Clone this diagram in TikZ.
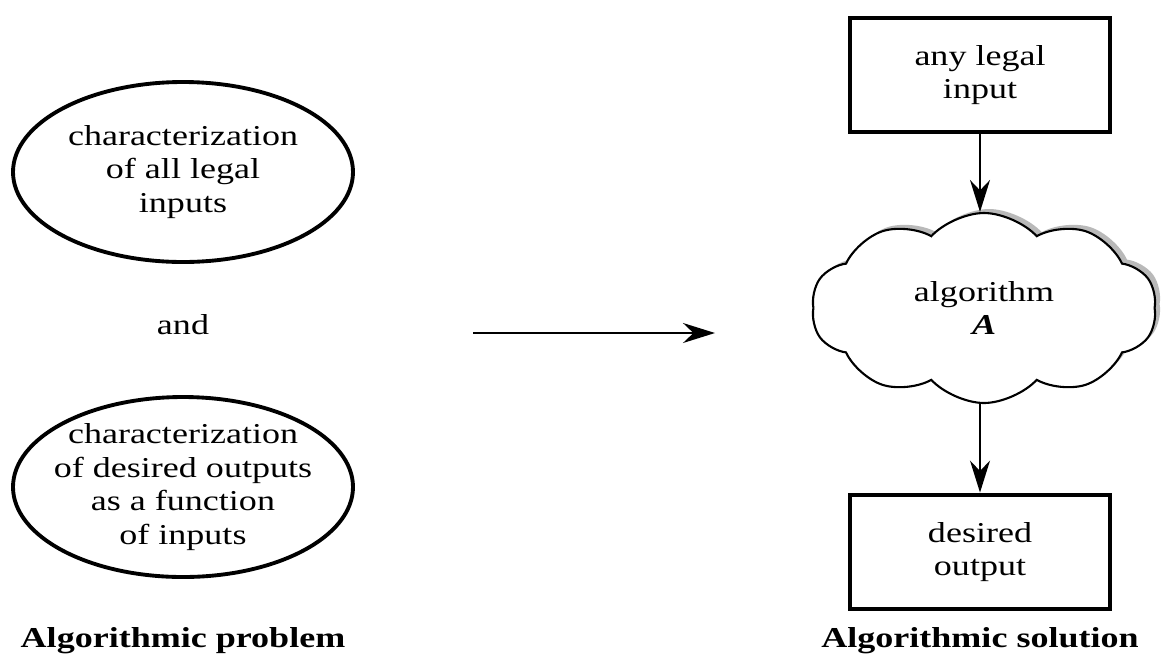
\documentclass[tikz,border=0pt]{standalone}
\usepackage{fontspec}
\setmainfont{Liberation Serif}[FakeStretch=1.25]
\usetikzlibrary{arrows.meta,positioning,shapes.geometric,shapes.symbols,shadows}
\tikzset{
  ovalblock/.style={ellipse, draw, line width=1.1pt, align=center, minimum width=3.4cm, minimum height=1.8cm, inner xsep=-0.15cm, inner ysep=-0.06cm},
  block/.style={rectangle, draw, line width=1.4pt, align=center, minimum width=2.6cm, minimum height=1.14cm},
  cloudblock/.style={cloud, draw, line width=0.6pt, fill=white, align=center, cloud puffs=10, cloud puff arc=95, aspect=1.8, minimum width=3.45cm, minimum height=1.9cm,
    drop shadow={shadow xshift=0.05cm, shadow yshift=0.04cm, fill=gray!55, opacity=1}},
  line/.style={-{Stealth[length=0.32cm,width=0.2cm]}, line width=0.5pt},
  title/.style={font=\fontsize{8.2}{9.5}\selectfont\bfseries, anchor=base}
}
\begin{document}
\begin{tikzpicture}[font=\fontsize{8.2}{9.5}\selectfont]
  \useasboundingbox (0,0) rectangle (11.72,6.54);
  \node[ovalblock] (inputs) at (1.83,4.82) {characterization\\of all legal\\inputs};
  \node (and) at (1.83,3.29) {and};
  \node[ovalblock] (outputs) at (1.83,1.67) {characterization\\of desired outputs\\as a function\\of inputs};
  \node[title] (problem) at (1.83,0.07) {Algorithmic problem};
  \coordinate (from) at (4.73,3.21);
  \coordinate (to) at (7.15,3.21);
  \draw[line] (from) -- (to);
  \node[block] (in) at (9.80,5.79) {any legal\\input};
  \node[cloudblock] (alg) at (9.84,3.46) {algorithm\\\textbf{\textit{A}}};
  \node[block] (out) at (9.80,1.02) {desired\\output};
  \node[title] (solution) at (9.80,0.07) {Algorithmic solution};
  \draw[line] (in) -- (in |- alg.north);
  \draw[line] (out |- alg.south) -- (out);
\end{tikzpicture}
\end{document}
